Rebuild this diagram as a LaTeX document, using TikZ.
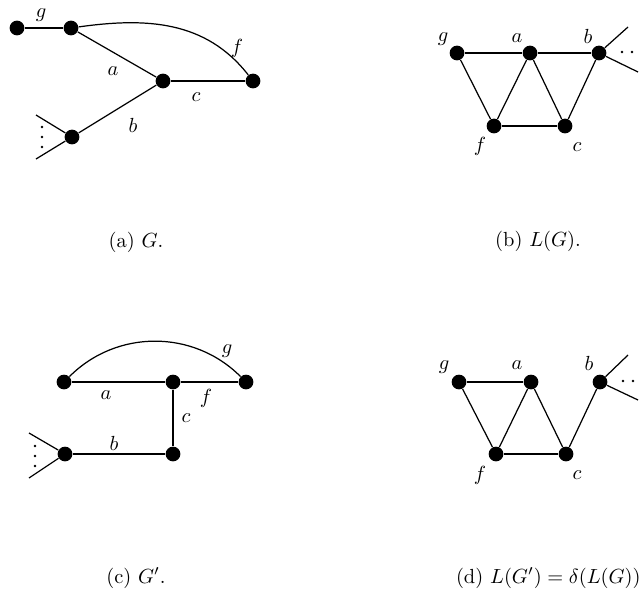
\documentclass[tikz,border=0pt]{standalone}
\usepackage{amsmath}
\usepackage{amssymb}
\usetikzlibrary{positioning}

\begin{document}
\begin{tikzpicture}[
  x=0.0172cm,y=-0.0172cm,
  edge/.style={draw=black,line width=.6pt},
  vtx/.style={circle,fill=black,inner sep=0pt,minimum size=7.2pt},
  fandot/.style={circle,fill=black,inner sep=0pt,minimum size=1.3pt},
  lbl/.style={inner sep=0pt,font=\normalsize},
  capt/.style={inner sep=0pt,font=\normalsize}]

\useasboundingbox (0,0) rectangle (641,595);

% (a) the graph G
\node[vtx] (ga) at (17,28) {};
\node[vtx] (ua) at (71,28) {};
\node[vtx] (ma) at (163,81) {};
\node[vtx] (ra) at (253,81) {};
\node[vtx] (la) at (72,137) {};
\coordinate (fa1) at (36,115);
\coordinate (fa2) at (36,159);
\node[fandot] (da1) at (42,127) {};
\node[fandot] (da2) at (42,137) {};
\node[fandot] (da3) at (42,147) {};

\draw[edge] (ga) -- (ua);
\draw[edge] (ua) -- (ma);
\draw[edge] (la) -- (ma);
\draw[edge] (ma) -- (ra);
\draw[edge] (ua) to[out=8,in=128] (ra);
\draw[edge] (la) -- (fa1);
\draw[edge] (la) -- (fa2);

\node[lbl] (lga) at (41,15) {$g$};
\node[lbl] (laa) at (113,71) {$a$};
\node[lbl] (lfa) at (237,48) {$f$};
\node[lbl] (lca) at (196,97) {$c$};
\node[lbl] (lba) at (133,125) {$b$};

% (b) the line graph L(G)
\node[vtx] (gb) at (457,53) {};
\node[vtx] (ab) at (530,53) {};
\node[vtx] (bb) at (599,53) {};
\node[vtx] (fb) at (494,126) {};
\node[vtx] (cb) at (565,126) {};
\coordinate (fb1) at (628,27);
\coordinate (fb2) at (638,72);
\node[fandot] (db1) at (622,52) {};
\node[fandot] (db2) at (632,52) {};

\draw[edge] (gb) -- (ab);
\draw[edge] (ab) -- (bb);
\draw[edge] (gb) -- (fb);
\draw[edge] (ab) -- (fb);
\draw[edge] (ab) -- (cb);
\draw[edge] (bb) -- (cb);
\draw[edge] (fb) -- (cb);
\draw[edge] (bb) -- (fb1);
\draw[edge] (bb) -- (fb2);

\node[lbl] (lgb) at (443,39) {$g$};
\node[lbl] (lab) at (517,38) {$a$};
\node[lbl] (lbb) at (588,36) {$b$};
\node[lbl] (lfb) at (480,146) {$f$};
\node[lbl] (lcb) at (577,147) {$c$};

% (c) the graph G'
\node[vtx] (lc) at (64,382) {};
\node[vtx] (mc) at (173,382) {};
\node[vtx] (rc) at (246,382) {};
\node[vtx] (pc) at (65,454) {};
\node[vtx] (qc) at (173,454) {};
\coordinate (fc1) at (29,433);
\coordinate (fc2) at (29,478);
\node[fandot] (dc1) at (35,446) {};
\node[fandot] (dc2) at (35,456) {};
\node[fandot] (dc3) at (35,466) {};

\draw[edge] (lc) -- (mc);
\draw[edge] (mc) -- (rc);
\draw[edge] (mc) -- (qc);
\draw[edge] (pc) -- (qc);
\draw[edge] (lc) to[out=45,in=135] (rc);
\draw[edge] (pc) -- (fc1);
\draw[edge] (pc) -- (fc2);

\node[lbl] (lgc) at (227,351) {$g$};
\node[lbl] (lac) at (106,395) {$a$};
\node[lbl] (lfc) at (206,398) {$f$};
\node[lbl] (lcc) at (186,418) {$c$};
\node[lbl] (lbc) at (114,443) {$b$};

% (d) delta of L(G)
\node[vtx] (gd) at (459,382) {};
\node[vtx] (ad) at (531,382) {};
\node[vtx] (bd) at (600,382) {};
\node[vtx] (fd) at (496,454) {};
\node[vtx] (cd) at (566,454) {};
\coordinate (fd1) at (628,355);
\coordinate (fd2) at (638,400);
\node[fandot] (dd1) at (623,381) {};
\node[fandot] (dd2) at (633,381) {};

\draw[edge] (gd) -- (ad);
\draw[edge] (gd) -- (fd);
\draw[edge] (ad) -- (fd);
\draw[edge] (ad) -- (cd);
\draw[edge] (bd) -- (cd);
\draw[edge] (fd) -- (cd);
\draw[edge] (bd) -- (fd1);
\draw[edge] (bd) -- (fd2);

\node[lbl] (lgd) at (444,367) {$g$};
\node[lbl] (lad) at (517,365) {$a$};
\node[lbl] (lbd) at (589,363) {$b$};
\node[lbl] (lfd) at (480,475) {$f$};
\node[lbl] (lcd) at (577,475) {$c$};

% captions
\node[capt] (capa) at (136,242) {(a) $G$.};
\node[capt] (capb) at (538,241) {(b) $L(G)$.};
\node[capt] (capc) at (136,578) {(c) $G'$.};
\node[capt,anchor=east] (capd) at (641,578) {(d) $L(G')=\delta(L(G))$};
\end{tikzpicture}
\end{document}
